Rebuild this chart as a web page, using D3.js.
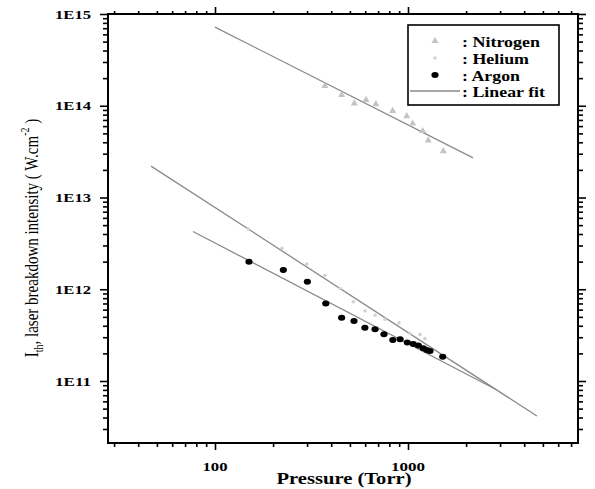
<!DOCTYPE html>
<html><head><meta charset="utf-8">
<script src="https://cdn.jsdelivr.net/npm/d3@7"></script>
<style>body{margin:0;background:#fff}svg{display:block}</style>
</head><body>
<svg id="c" width="595" height="489"></svg>
<script>
// ---- data ----
const nitrogenP = [371, 453, 527, 606, 682, 833, 985, 1057, 1191, 1273, 1524];
const nitrogenI = [1.64e14, 1.31e14, 1.06e14, 1.16e14, 1.04e14, 8.8e13, 7.7e13, 6.4e13, 5.3e13, 4.2e13, 3.2e13];
const heliumP = [149, 222, 299, 371, 444, 521, 599, 675, 760, 898, 1023, 1153, 1224];
const heliumI = [4.54e12, 2.79e12, 1.88e12, 1.41e12, 1.02e12, 7.3e11, 5.8e11, 5.2e11, 4.7e11, 4.3e11, 3.3e11, 3.2e11, 2.9e11];
const argonP = [150, 226, 301, 375, 453, 525, 598, 675, 751, 834, 910, 992, 1065, 1131, 1200, 1250, 1300, 1513];
const argonI = [2.0e12, 1.62e12, 1.21e12, 7.0e11, 4.9e11, 4.5e11, 3.81e11, 3.66e11, 3.23e11, 2.80e11, 2.85e11, 2.62e11, 2.53e11, 2.43e11, 2.27e11, 2.18e11, 2.12e11, 1.84e11];
const nitrogenFit = [[100, 7.2e14], [2173, 2.70e13]];
const heliumFit = [[46.6, 2.20e13], [4656, 4.15e10]];
const argonFit = [[76.9, 4.26e12], [2825, 8.19e10]];
const xMajor = [100, 1000];
const xMajorLabels = ["100", "1000"];
const yMajor = [1e11, 1e12, 1e13, 1e14, 1e15];
const yMajorLabels = ["1E11", "1E12", "1E13", "1E14", "1E15"];
const legendLabels = [": Nitrogen", ": Helium", ": Argon", ": Linear fit"];

// ---- layout ----
const L = 108, R = 578, T = 14, B = 443;
const x = d3.scaleLog().domain([27.9, 7600]).range([L, R]);
const y = d3.scaleLog().domain([2.11e10, 1e15]).range([B, T]);
const svg = d3.select("#c");
const serif = "'Liberation Serif','Times New Roman',serif";

// minor ticks
const xMinor = [];
for (let d = 10; d <= 1000; d *= 10) for (let k = 2; k <= 9; k++) { const v = d * k; if (v >= x.domain()[0] && v <= x.domain()[1]) xMinor.push(v); }
const yMinor = [];
for (let d = 1e10; d <= 1e14; d *= 10) for (let k = 2; k <= 9; k++) { const v = d * k; if (v >= y.domain()[0] && v <= y.domain()[1]) yMinor.push(v); }

// axes via d3
function ax(make, tx, ty, major, minor, lenMaj, lenMin) {
  const g1 = svg.append("g").attr("transform", `translate(${tx},${ty})`)
    .call(make().tickValues(minor).tickSize(lenMin).tickFormat(""));
  const g2 = svg.append("g").attr("transform", `translate(${tx},${ty})`)
    .call(make().tickValues(major).tickSize(lenMaj).tickFormat(""));
  [g1, g2].forEach(g => {
    g.select(".domain").remove();
    g.selectAll(".tick line").attr("stroke", "#000").attr("stroke-width", 1.6);
  });
}
ax(() => d3.axisBottom(x), 0, B, xMajor, xMinor, 7, 4);
ax(() => d3.axisTop(x), 0, T, xMajor, xMinor, 7, 3);
ax(() => d3.axisLeft(y), L, 0, yMajor, yMinor, 8, 5);
ax(() => d3.axisRight(y), R, 0, yMajor, yMinor, 8, 5);

svg.append("rect").attr("x", L).attr("y", T).attr("width", R - L).attr("height", B - T)
  .attr("fill", "none").attr("stroke", "#000").attr("stroke-width", 2);

// tick labels
svg.selectAll(".xl").data(xMajor).enter().append("text")
  .attr("x", d => x(d)).attr("y", 471).attr("text-anchor", "middle")
  .attr("font-family", serif).attr("font-weight", "bold").attr("font-size", 12)
  .attr("textLength", (d, i) => xMajorLabels[i].length === 3 ? 25 : 34).attr("lengthAdjust", "spacingAndGlyphs")
  .text((d, i) => xMajorLabels[i]);
svg.selectAll(".yl").data(yMajor).enter().append("text")
  .attr("x", 91).attr("y", d => y(d) + 4.5).attr("text-anchor", "end")
  .attr("font-family", serif).attr("font-weight", "bold").attr("font-size", 12)
  .attr("textLength", 36).attr("lengthAdjust", "spacingAndGlyphs")
  .text((d, i) => yMajorLabels[i]);

// axis titles
svg.append("text").attr("x", 344).attr("y", 484).attr("text-anchor", "middle")
  .attr("font-family", serif).attr("font-weight", "bold").attr("font-size", 16)
  .attr("textLength", 135).attr("lengthAdjust", "spacingAndGlyphs").text("Pressure (Torr)");
const yt = svg.append("text").attr("transform", "translate(38,238) scale(1.25,1) rotate(-90)")
  .attr("text-anchor", "middle").attr("font-family", serif).attr("font-size", 15);
yt.append("tspan").text("I");
yt.append("tspan").attr("font-size", 10).attr("dy", 4).text("th");
yt.append("tspan").attr("dy", -4).text(", laser breakdown intensity ( W.cm");
yt.append("tspan").attr("font-size", 10).attr("dy", -7).text("-2");
yt.append("tspan").attr("dy", 7).text(" )");

// fit lines
const line = d3.line().x(d => x(d[0])).y(d => y(d[1]));
[nitrogenFit, heliumFit, argonFit].forEach(f => {
  svg.append("path").attr("d", line(f)).attr("fill", "none").attr("stroke", "#8a8a8a").attr("stroke-width", 1.3);
});

// points
const tri = d3.symbol().type(d3.symbolTriangle).size(22);
svg.selectAll(".n").data(nitrogenP).enter().append("path")
  .attr("d", tri).attr("transform", (d, i) => `translate(${x(d)},${y(nitrogenI[i])})`)
  .attr("fill", "#c4c4c4");
svg.selectAll(".h").data(heliumP).enter().append("circle")
  .attr("cx", d => x(d)).attr("cy", (d, i) => y(heliumI[i])).attr("r", 1.8)
  .attr("fill", "#d2d2d2");
svg.selectAll(".a").data(argonP).enter().append("ellipse")
  .attr("cx", d => x(d)).attr("cy", (d, i) => y(argonI[i])).attr("rx", 3.6).attr("ry", 3)
  .attr("fill", "#000");

// legend
svg.append("rect").attr("x", 408).attr("y", 25).attr("width", 151).attr("height", 80)
  .attr("fill", "#fff").attr("stroke", "#000").attr("stroke-width", 1.6);
const ly = [41, 58, 75, 91];
svg.append("path").attr("d", tri).attr("transform", `translate(435,${ly[0]})`).attr("fill", "#c4c4c4");
svg.append("circle").attr("cx", 435).attr("cy", ly[1]).attr("r", 1.8).attr("fill", "#d2d2d2");
svg.append("ellipse").attr("cx", 435).attr("cy", ly[2]).attr("rx", 3.6).attr("ry", 3).attr("fill", "#000");
svg.append("line").attr("x1", 410).attr("x2", 460).attr("y1", ly[3]).attr("y2", ly[3])
  .attr("stroke", "#8a8a8a").attr("stroke-width", 1.3);
const lw = [78, 67, 58, 83];
legendLabels.forEach((t, i) => {
  svg.append("text").attr("x", 462).attr("y", ly[i] + 5.5)
    .attr("font-family", serif).attr("font-weight", "bold").attr("font-size", 15)
    .attr("textLength", lw[i]).attr("lengthAdjust", "spacingAndGlyphs").text(t);
});
</script>
</body></html>
